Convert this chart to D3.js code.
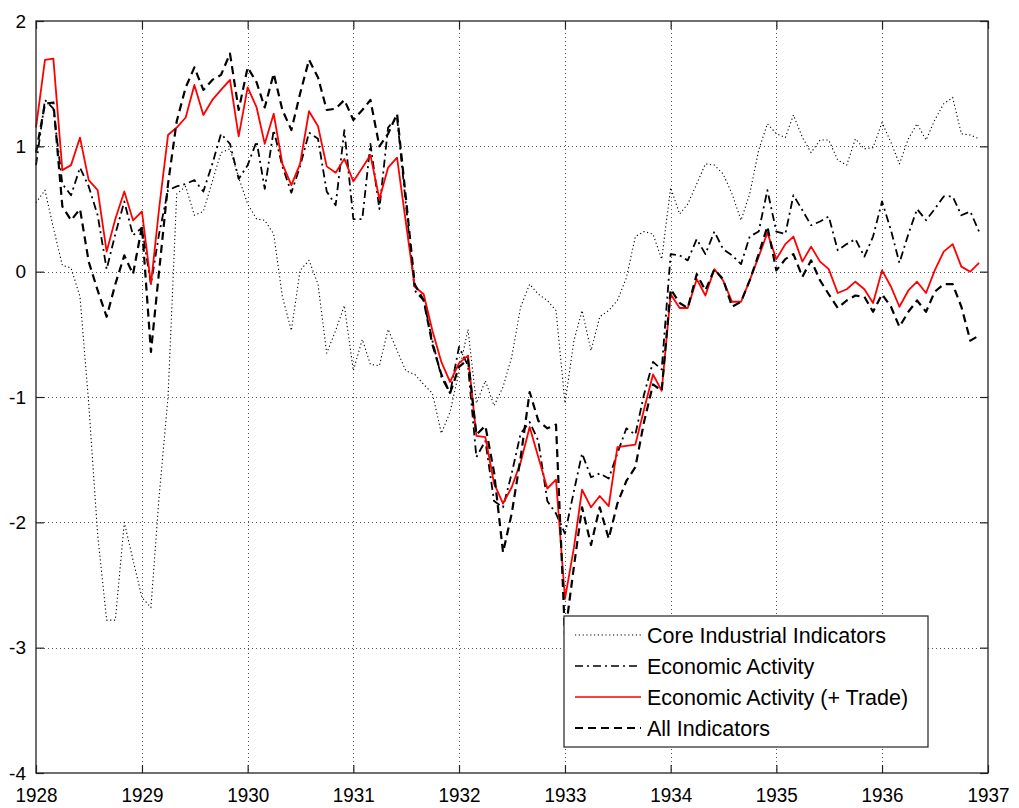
<!DOCTYPE html>
<html>
<head>
<meta charset="utf-8">
<script src="https://cdn.jsdelivr.net/npm/d3@7/dist/d3.min.js"></script>
<style>
  html, body { margin: 0; padding: 0; background: #fff; }
  svg { display: block; }
  text { font-family: "Liberation Sans", Arial, Helvetica, sans-serif; }
</style>
</head>
<body>
<svg id="chart" width="1019" height="808"></svg>
<script>
// ---- data (monthly, Jan 1928 .. Dec 1936) ----
const startDate = new Date(1928, 0, 1);
const endDate = new Date(1937, 0, 1);
const seriesNames = ["Core Industrial Indicators", "Economic Activity", "Economic Activity (+ Trade)", "All Indicators"];
const yearTicks = [1928, 1929, 1930, 1931, 1932, 1933, 1934, 1935, 1936, 1937];
const yTicks = [-4, -3, -2, -1, 0, 1, 2];

const coreIndustrial = [
  0.55, 0.65, 0.35, 0.05, 0.03, -0.2, -1.05, -2.1, -2.78, -2.78, -2.0, -2.3,
  -2.6, -2.68, -1.8, -1.0, 0.62, 0.68, 0.45, 0.48, 0.72, 0.95, 0.98, 0.75,
  0.54, 0.42, 0.41, 0.30, -0.20, -0.47, 0.01, 0.09, -0.10, -0.65, -0.47, -0.27,
  -0.79, -0.54, -0.74, -0.75, -0.46, -0.63, -0.79, -0.82, -0.90, -0.97, -1.29, -1.12,
  -0.80, -0.46, -1.05, -0.87, -1.07, -0.92, -0.68, -0.28, -0.10, -0.18, -0.23, -0.31,
  -1.05, -0.55, -0.31, -0.63, -0.36, -0.31, -0.23, -0.05, 0.28, 0.32, 0.30, 0.10,
  0.67, 0.46, 0.54, 0.70, 0.86, 0.85, 0.78, 0.62, 0.41, 0.62, 0.97, 1.18,
  1.10, 1.07, 1.25, 1.07, 0.95, 1.05, 1.05, 0.89, 0.85, 1.06, 0.98, 0.99,
  1.19, 1.03, 0.86, 1.06, 1.18, 1.05, 1.21, 1.34, 1.39, 1.10, 1.09, 1.06
];
const economicActivity = [
  0.85, 1.37, 1.30, 0.70, 0.61, 0.83, 0.68, 0.45, 0.02, 0.30, 0.56, 0.29,
  0.35, -0.10, 0.30, 0.65, 0.68, 0.70, 0.73, 0.64, 0.86, 1.10, 1.02, 0.74,
  0.85, 1.04, 0.66, 1.13, 0.84, 0.63, 0.84, 1.11, 1.06, 0.64, 0.53, 1.13,
  0.42, 0.42, 1.02, 0.50, 1.15, 1.23, 0.55, -0.15, -0.23, -0.55, -0.84, -0.97,
  -0.60, -0.75, -1.48, -1.35, -1.83, -1.88, -1.61, -1.29, -1.20, -1.35, -1.83, -1.93,
  -2.09, -1.75, -1.45, -1.64, -1.61, -1.65, -1.45, -1.25, -1.30, -0.98, -0.72, -0.78,
  0.14, 0.13, 0.09, 0.26, 0.14, 0.32, 0.18, 0.13, 0.06, 0.28, 0.32, 0.65,
  0.32, 0.30, 0.61, 0.49, 0.37, 0.40, 0.44, 0.17, 0.22, 0.26, 0.12, 0.28,
  0.56, 0.33, 0.07, 0.30, 0.50, 0.41, 0.50, 0.60, 0.60, 0.45, 0.48, 0.32
];
const economicTrade = [
  1.15, 1.69, 1.70, 0.81, 0.85, 1.07, 0.73, 0.65, 0.16, 0.42, 0.64, 0.41,
  0.48, -0.10, 0.50, 1.09, 1.15, 1.23, 1.49, 1.25, 1.37, 1.45, 1.53, 1.08,
  1.47, 1.31, 1.02, 1.26, 0.86, 0.69, 0.86, 1.28, 1.16, 0.84, 0.79, 0.90,
  0.72, 0.83, 0.93, 0.58, 0.83, 0.91, 0.40, -0.12, -0.18, -0.47, -0.72, -0.88,
  -0.73, -0.67, -1.31, -1.32, -1.69, -1.85, -1.72, -1.52, -1.24, -1.48, -1.73, -1.66,
  -2.61, -2.20, -1.74, -1.88, -1.79, -1.87, -1.40, -1.39, -1.38, -1.10, -0.82, -0.95,
  -0.18, -0.29, -0.29, -0.06, -0.19, 0.02, -0.07, -0.24, -0.24, -0.07, 0.12, 0.31,
  0.10, 0.22, 0.28, 0.08, 0.20, 0.08, 0.02, -0.17, -0.14, -0.08, -0.14, -0.25,
  0.01, -0.12, -0.28, -0.15, -0.08, -0.17, 0.01, 0.16, 0.22, 0.04, 0.00, 0.07
];
const allIndicators = [
  0.95, 1.34, 1.35, 0.52, 0.41, 0.50, 0.08, -0.15, -0.36, -0.10, 0.13, -0.02,
  0.36, -0.64, 0.00, 0.70, 1.20, 1.47, 1.63, 1.45, 1.53, 1.57, 1.74, 1.29,
  1.63, 1.51, 1.31, 1.58, 1.29, 1.13, 1.42, 1.69, 1.55, 1.29, 1.30, 1.37,
  1.21, 1.29, 1.37, 1.00, 1.10, 1.26, 0.60, -0.10, -0.23, -0.58, -0.82, -0.97,
  -0.76, -0.70, -1.30, -1.23, -1.60, -2.24, -1.93, -1.48, -0.96, -1.19, -1.25, -1.22,
  -2.90, -2.35, -1.88, -2.18, -1.88, -2.13, -1.85, -1.67, -1.56, -1.20, -0.90, -0.95,
  -0.14, -0.25, -0.29, -0.02, -0.15, 0.02, -0.06, -0.28, -0.24, -0.07, 0.14, 0.36,
  0.01, 0.10, 0.14, -0.04, 0.09, -0.07, -0.18, -0.29, -0.23, -0.19, -0.20, -0.32,
  -0.18, -0.28, -0.44, -0.32, -0.23, -0.32, -0.16, -0.10, -0.10, -0.28, -0.55, -0.51
];

const months = d3.timeMonth.range(startDate, endDate);

// ---- layout ----
const svg = d3.select("#chart");
const L = 36, R = 988, T = 21, B = 773;

const x = d3.scaleTime().domain([startDate, endDate]).range([L, R]);
const y = d3.scaleLinear().domain([-4, 2]).range([B, T]);
const yearDates = yearTicks.map(yr => new Date(yr, 0, 1));

// gridlines
const grid = svg.append("g").attr("stroke", "#555").attr("stroke-width", 1).attr("stroke-dasharray", "1,3");
grid.selectAll("line.vx").data(yearDates.slice(1, -1)).join("line")
  .attr("x1", d => Math.round(x(d)) + 0.5).attr("x2", d => Math.round(x(d)) + 0.5)
  .attr("y1", T).attr("y2", B);
grid.selectAll("line.hy").data(yTicks.slice(1, -1)).join("line")
  .attr("x1", L).attr("x2", R)
  .attr("y1", d => Math.round(y(d)) + 0.5).attr("y2", d => Math.round(y(d)) + 0.5);

// series
const line = d3.line().x((d, i) => x(months[i])).y(d => y(d));
const styles = [
  { data: coreIndustrial, stroke: "#000", width: 1.1, dash: "1.2,2.6", lw: 1.1 },
  { data: economicActivity, stroke: "#000", width: 1.8, dash: "8,4,2,4", lw: 1.6 },
  { data: economicTrade, stroke: "#ff0000", width: 1.8, dash: null, lw: 1.6 },
  { data: allIndicators, stroke: "#000", width: 2.2, dash: "8,5", lw: 1.8 }
];
const gLines = svg.append("g").attr("fill", "none");
styles.forEach(s => {
  gLines.append("path").datum(s.data)
    .attr("d", line)
    .attr("stroke", s.stroke)
    .attr("stroke-width", s.width)
    .attr("stroke-linejoin", "round")
    .attr("stroke-dasharray", s.dash);
});

// axes
const fmt = d3.timeFormat("%Y");
const axB = svg.append("g").attr("transform", `translate(0,${B})`)
  .call(d3.axisBottom(x).tickValues(yearDates).tickFormat(fmt).tickSizeInner(-8).tickSizeOuter(0).tickPadding(14));
const axT = svg.append("g").attr("transform", `translate(0,${T})`)
  .call(d3.axisTop(x).tickValues(yearDates).tickFormat("").tickSizeInner(-8).tickSizeOuter(0));
const axL = svg.append("g").attr("transform", `translate(${L},0)`)
  .call(d3.axisLeft(y).tickValues(yTicks).tickFormat(d => String(d)).tickSizeInner(-8).tickSizeOuter(0).tickPadding(10));
const axR = svg.append("g").attr("transform", `translate(${R},0)`)
  .call(d3.axisRight(y).tickValues(yTicks).tickFormat("").tickSizeInner(-8).tickSizeOuter(0));
[axB, axT, axL, axR].forEach(a => {
  a.select(".domain").remove();
  a.selectAll(".tick line").attr("stroke", "#222").attr("stroke-width", 1.2);
  a.selectAll("text").attr("fill", "#000")
    .attr("font-family", "'Liberation Sans', Arial, sans-serif");
});
axL.selectAll("text").attr("font-size", 19);
axB.selectAll("text").attr("font-size", 21).attr("transform", "scale(0.9,1)");

// frame
svg.append("rect").attr("x", L).attr("y", T).attr("width", R - L).attr("height", B - T)
  .attr("fill", "none").attr("stroke", "#222").attr("stroke-width", 1.3);

// legend
const lg = svg.append("g").attr("transform", "translate(564,616)");
lg.append("rect").attr("x", 0).attr("y", 0).attr("width", 364).attr("height", 131)
  .attr("fill", "#fff").attr("stroke", "#222").attr("stroke-width", 1.2);
styles.forEach((s, i) => {
  const yy = 19 + i * 31;
  lg.append("line").attr("x1", 11).attr("x2", 77).attr("y1", yy).attr("y2", yy)
    .attr("stroke", s.stroke).attr("stroke-width", s.lw)
    .attr("stroke-dasharray", s.dash);
  lg.append("text").attr("x", 83).attr("y", yy).attr("dy", "0.36em")
    .attr("font-size", 21.5).attr("fill", "#000").text(seriesNames[i]);
});
</script>
</body>
</html>
